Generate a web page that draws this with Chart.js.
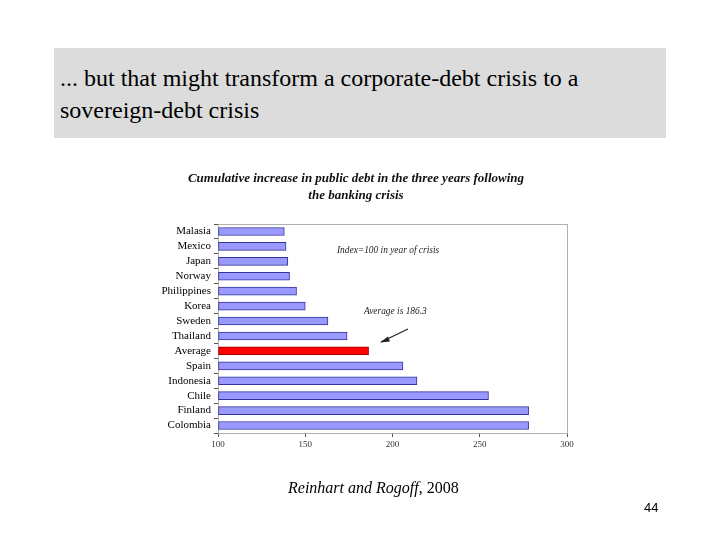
<!DOCTYPE html>
<html>
<head>
<meta charset="utf-8">
<script src="https://cdn.jsdelivr.net/npm/chart.js@4"></script>
<style>
  body { margin: 0; width: 720px; height: 540px; background: #fff; position: relative; overflow: hidden; }
  #chart { position: absolute; left: 0; top: 0; }
  .header {
    position: absolute; left: 54px; top: 48px; width: 612px; height: 90px;
    background: #dcdcdc; box-sizing: border-box; padding: 14px 0 0 6px;
    font-family: "Liberation Serif", "Times New Roman", serif; font-size: 24px; line-height: 32px; color: #000;
  }
  .title {
    position: absolute; left: 146px; top: 169px; width: 420px; text-align: center;
    font-family: "Liberation Serif", serif; font-style: italic; font-weight: bold;
    font-size: 13px; line-height: 17px; color: #111;
  }
  .source {
    position: absolute; left: 288px; top: 479px;
    font-family: "Liberation Serif", serif; font-size: 16px; color: #000;
  }
  .page {
    position: absolute; left: 644px; top: 500px;
    font-family: "Liberation Sans", sans-serif; font-size: 13px; color: #000;
  }
</style>
</head>
<body>
<canvas id="chart" width="720" height="540"></canvas>
<div class="header">... but that might transform a corporate-debt crisis to a<br>sovereign-debt crisis</div>
<div class="title">Cumulative increase in public debt in the three years following<br>the banking crisis</div>
<div class="source"><i>Reinhart and Rogoff</i>, 2008</div>
<div class="page">44</div>
<script>
const countries = ['Malasia', 'Mexico', 'Japan', 'Norway', 'Philippines', 'Korea', 'Sweden',
    'Thailand', 'Average', 'Spain', 'Indonesia', 'Chile', 'Finland', 'Colombia'];
const debtIndex = [138, 139, 140, 141, 145, 150, 163, 174, 186.3, 206, 214, 255, 278, 278];
const xTicks = [100, 150, 200, 250, 300];

const fillColors = countries.map(c => c === 'Average' ? '#ff0000' : '#9999ff');
const edgeColors = countries.map(c => c === 'Average' ? '#990000' : '#333399');

// plot frame + notes drawn on the canvas
const notesPlugin = {
    id: 'notes',
    beforeDatasetsDraw(chart) {
        const { ctx, chartArea } = chart;
        ctx.save();
        ctx.strokeStyle = '#b0b0b0';
        ctx.lineWidth = 1;
        ctx.strokeRect(chartArea.left + 0.5, chartArea.top + 0.5,
            chartArea.right - chartArea.left, chartArea.bottom - chartArea.top);
        ctx.restore();
    },
    afterDraw(chart) {
        const { ctx } = chart;
        ctx.save();
        ctx.fillStyle = '#222';
        ctx.font = 'italic 9.4px "Liberation Serif"';
        ctx.textBaseline = 'middle';
        ctx.fillText('Index=100 in year of crisis', 337, 251);
        ctx.fillText('Average is 186.3', 364, 312);
        // arrow
        ctx.strokeStyle = '#222';
        ctx.lineWidth = 1.2;
        ctx.beginPath();
        ctx.moveTo(408, 329);
        ctx.lineTo(381, 342);
        ctx.stroke();
        ctx.beginPath();
        ctx.moveTo(380, 342.5);
        ctx.lineTo(388, 336.5);
        ctx.lineTo(390, 341.5);
        ctx.closePath();
        ctx.fillStyle = '#222';
        ctx.fill();
        ctx.restore();
    }
};

new Chart(document.getElementById('chart'), {
    type: 'bar',
    data: {
        labels: countries,
        datasets: [{
            data: debtIndex,
            backgroundColor: fillColors,
            borderColor: edgeColors,
            borderWidth: 1,
            borderSkipped: false,
            barThickness: 8,
            base: 100
        }]
    },
    options: {
        indexAxis: 'y',
        responsive: false,
        animation: false,
        layout: { padding: { left: 0, right: 153, top: 224, bottom: 77 } },
        plugins: {
            legend: { display: false },
            tooltip: { enabled: false }
        },
        scales: {
            x: {
                min: 100,
                max: 300,
                afterBuildTicks: scale => { scale.ticks = xTicks.map(v => ({ value: v })); },
                afterFit: scale => { scale.height = 30; },
                border: { display: true, color: '#555', width: 1 },
                grid: { drawOnChartArea: false, tickLength: 4, color: '#555' },
                ticks: {
                    color: '#333',
                    padding: 2,
                    font: { family: 'Liberation Serif', size: 9 }
                }
            },
            y: {
                afterFit: scale => { scale.width = 218; },
                border: { display: true, color: '#555', width: 1 },
                grid: { drawOnChartArea: false, offset: true, tickLength: 4, color: '#555' },
                ticks: {
                    color: '#000',
                    padding: 3,
                    autoSkip: false,
                    font: { family: 'Liberation Serif', size: 11 }
                }
            }
        }
    },
    plugins: [notesPlugin]
});
</script>
</body>
</html>
